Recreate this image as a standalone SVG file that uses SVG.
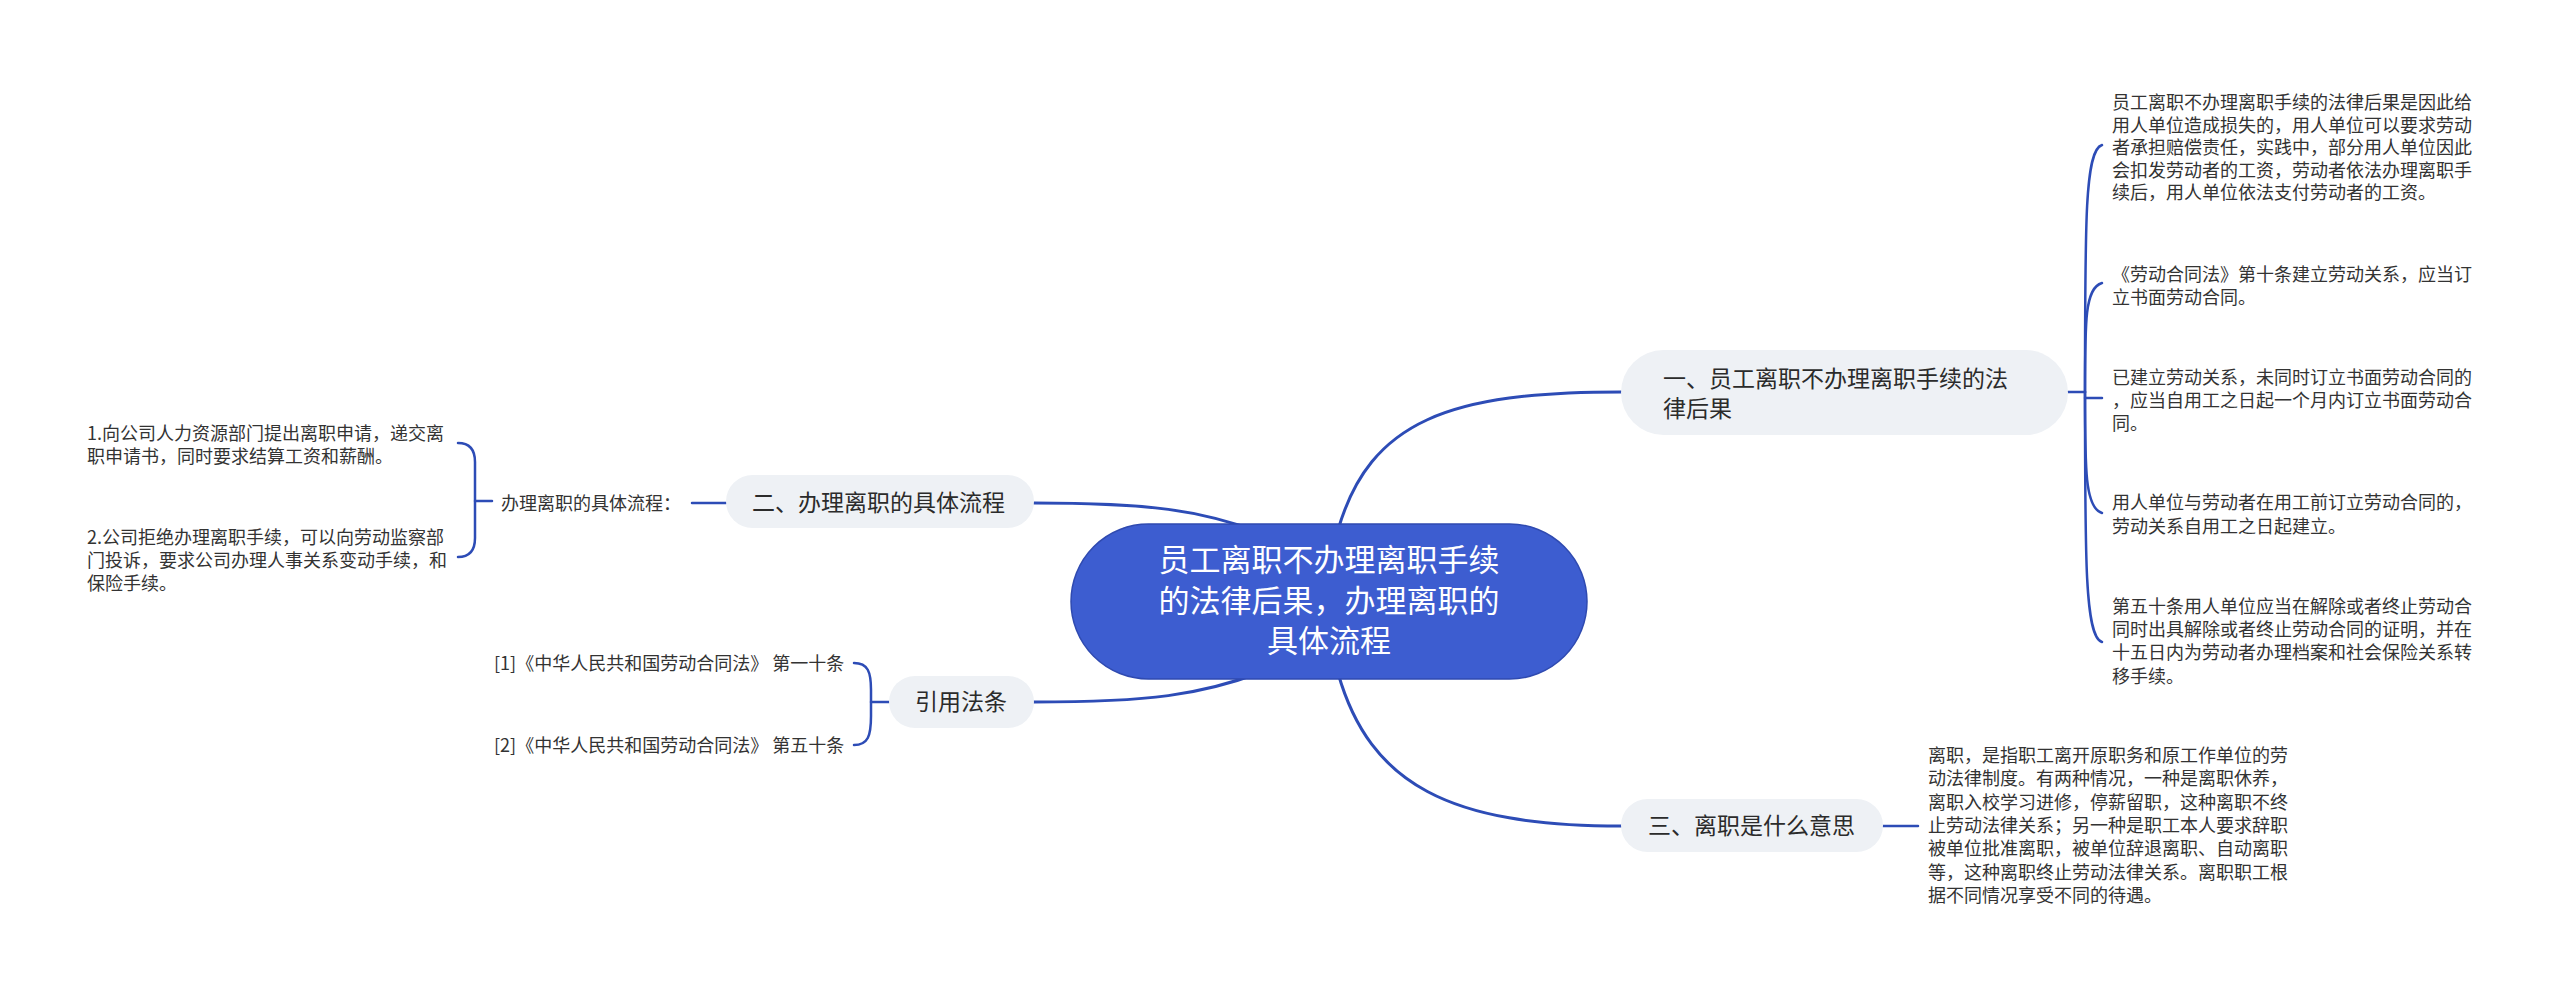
<svg xmlns="http://www.w3.org/2000/svg" width="2560" height="994" viewBox="0 0 2560 994">
<style>
text{font-family:"Noto Sans CJK SC","Noto Sans",sans-serif;}
.main{fill:none;stroke:#2D4CB6;stroke-width:3;stroke-linecap:round}
.sub{fill:none;stroke:#2D4CB6;stroke-width:2.5;stroke-linecap:round}
.box{fill:#EEF1F5}
.t1{font-size:23px;fill:#2b2b2b}
.t2{font-size:18px;fill:#333}
.ct{font-size:31px;fill:#fff;text-anchor:middle}
</style>
<rect width="2560" height="994" fill="#fff"/>
<g id="connectors">
<path class="main" d="M1338 530 C1370 420 1450 392 1621 392"/>
<path class="main" d="M1338 673 C1370 785 1450 826 1621 826"/>
<path class="main" d="M1034 503 C1150 503 1200 510 1262 533"/>
<path class="main" d="M1034 702 C1150 702 1200 695 1262 672"/>
<path class="sub" d="M2068 392 L2085 392"/>
<path class="sub" d="M2085 392 C2085 220 2085 150 2102 145"/>
<path class="sub" d="M2085 392 C2085 320 2085 288 2102 283"/>
<path class="sub" d="M2085 398 L2102 398"/>
<path class="sub" d="M2085 392 C2085 470 2085 508 2102 513"/>
<path class="sub" d="M2085 392 C2085 560 2085 637 2102 642"/>
<path class="sub" d="M1883 826 L1918 826"/>
<path class="sub" d="M692 503 L726 503"/>
<path class="sub" d="M458 443 Q475 443 475 462 L475 538 Q475 557 458 557"/>
<path class="sub" d="M475 501 L492 501"/>
<path class="sub" d="M854 663 C868 663 871 672 871 690 L871 716 C871 736 868 745 854 745"/>
<path class="sub" d="M871 702 L889 702"/>
</g>
<g id="central">
<rect x="1071" y="524" width="516" height="155" rx="77.5" fill="#3D5DD0" stroke="#2F4AB0" stroke-width="1.5"/>
<text class="ct"><tspan x="1329" y="571">员工离职不办理离职手续</tspan><tspan x="1329" y="612">的法律后果，办理离职的</tspan><tspan x="1329" y="652">具体流程</tspan></text>
</g>
<g id="node1">
<rect class="box" x="1621" y="350" width="447" height="85" rx="42.5"/>
<text class="t1"><tspan x="1663" y="387">一、员工离职不办理离职手续的法</tspan><tspan x="1663" y="417">律后果</tspan></text>
</g>
<g id="node1-c1">
<text class="t2"><tspan x="2112" y="109">员工离职不办理离职手续的法律后果是因此给</tspan><tspan x="2112" y="131.5">用人单位造成损失的，用人单位可以要求劳动</tspan><tspan x="2112" y="154">者承担赔偿责任，实践中，部分用人单位因此</tspan><tspan x="2112" y="176.5">会扣发劳动者的工资，劳动者依法办理离职手</tspan><tspan x="2112" y="199">续后，用人单位依法支付劳动者的工资。</tspan></text>
</g>
<g id="node1-c2">
<text class="t2"><tspan x="2112" y="281">《劳动合同法》第十条建立劳动关系，应当订</tspan><tspan x="2112" y="304">立书面劳动合同。</tspan></text>
</g>
<g id="node1-c3">
<text class="t2"><tspan x="2112" y="384">已建立劳动关系，未同时订立书面劳动合同的</tspan><tspan x="2112" y="407">，应当自用工之日起一个月内订立书面劳动合</tspan><tspan x="2112" y="430">同。</tspan></text>
</g>
<g id="node1-c4">
<text class="t2"><tspan x="2112" y="509">用人单位与劳动者在用工前订立劳动合同的，</tspan><tspan x="2112" y="533">劳动关系自用工之日起建立。</tspan></text>
</g>
<g id="node1-c5">
<text class="t2"><tspan x="2112" y="613">第五十条用人单位应当在解除或者终止劳动合</tspan><tspan x="2112" y="636">同时出具解除或者终止劳动合同的证明，并在</tspan><tspan x="2112" y="659">十五日内为劳动者办理档案和社会保险关系转</tspan><tspan x="2112" y="683">移手续。</tspan></text>
</g>
<g id="node3">
<rect class="box" x="1621" y="799" width="262" height="53" rx="26.5"/>
<text class="t1" x="1648" y="834">三、离职是什么意思</text>
</g>
<g id="node3-c1">
<text class="t2"><tspan x="1928" y="762">离职，是指职工离开原职务和原工作单位的劳</tspan><tspan x="1928" y="785">动法律制度。有两种情况，一种是离职休养，</tspan><tspan x="1928" y="808.5">离职入校学习进修，停薪留职，这种离职不终</tspan><tspan x="1928" y="832">止劳动法律关系；另一种是职工本人要求辞职</tspan><tspan x="1928" y="855">被单位批准离职，被单位辞退离职、自动离职</tspan><tspan x="1928" y="878.5">等，这种离职终止劳动法律关系。离职职工根</tspan><tspan x="1928" y="902">据不同情况享受不同的待遇。</tspan></text>
</g>
<g id="node2">
<rect class="box" x="726" y="475" width="308" height="53" rx="26.5"/>
<text class="t1" x="752" y="511">二、办理离职的具体流程</text>
</g>
<g id="node2-label">
<text class="t2" x="501" y="509.5">办理离职的具体流程：</text>
</g>
<g id="node2-c1">
<text class="t2"><tspan x="87" y="440">1.向公司人力资源部门提出离职申请，递交离</tspan><tspan x="87" y="463">职申请书，同时要求结算工资和薪酬。</tspan></text>
</g>
<g id="node2-c2">
<text class="t2"><tspan x="87" y="543.5">2.公司拒绝办理离职手续，可以向劳动监察部</tspan><tspan x="87" y="566.5">门投诉，要求公司办理人事关系变动手续，和</tspan><tspan x="87" y="589.5">保险手续。</tspan></text>
</g>
<g id="node4">
<rect class="box" x="889" y="676" width="145" height="52" rx="26"/>
<text class="t1" x="915" y="710">引用法条</text>
</g>
<g id="node4-c1">
<text class="t2" x="494" y="669.5">[1]《中华人民共和国劳动合同法》 第一十条</text>
</g>
<g id="node4-c2">
<text class="t2" x="494" y="751.5">[2]《中华人民共和国劳动合同法》 第五十条</text>
</g>
</svg>
